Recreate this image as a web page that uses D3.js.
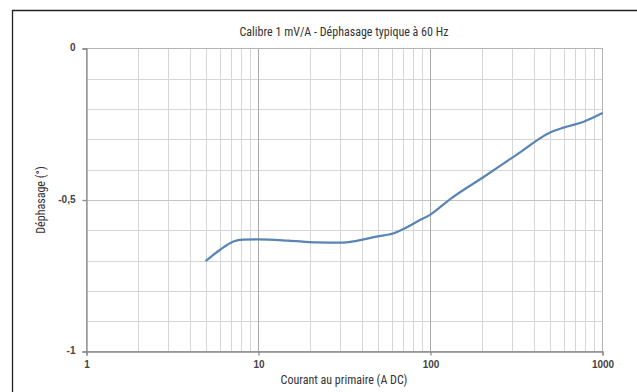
<!DOCTYPE html>
<html><head><meta charset="utf-8">
<script src="https://cdn.jsdelivr.net/npm/d3@7"></script>
<style>
html,body{margin:0;padding:0;background:#fff;}
svg{display:block;}
.cond{font-family:"Liberation Sans Narrow","Roboto Condensed","Liberation Sans",Arial,sans-serif;font-stretch:condensed;}
</style></head>
<body>
<svg id="c" width="637" height="392"></svg>
<script>
const currentA = [5, 6, 7.2, 8.2, 10, 15, 22, 30, 38, 49, 61.5, 73.5, 85, 100, 131, 205, 320, 500, 598, 782, 1000];
const phaseDeg = [-0.700, -0.665, -0.637, -0.631, -0.630, -0.634, -0.640, -0.641, -0.634, -0.621, -0.610, -0.590, -0.570, -0.549, -0.497, -0.424, -0.350, -0.277, -0.261, -0.242, -0.214];
const xTickVals = [1, 10, 100, 1000];
const xTickLabels = ["1", "10", "100", "1000"];
const yTickVals = [0, -0.5, -1];
const yTickLabels = ["0", "-0,5", "-1"];
const titleText = "Calibre 1 mV/A - Déphasage typique à 60 Hz";
const xLabel = "Courant au primaire (A DC)";
const yLabel = "Déphasage (°)";

const svg = d3.select("#c");
const L = 86, R = 602, T = 48.5, B = 351.5;
const x = d3.scaleLog().domain([1, 1000]).range([L, R]);
const y = d3.scaleLinear().domain([-1, 0]).range([B, T]);

// frame
svg.append("line").attr("x1",12.5).attr("x2",12.5).attr("y1",10).attr("y2",392).attr("stroke","#222").attr("stroke-width",1.3);
svg.append("line").attr("x1",12).attr("x2",637).attr("y1",10.5).attr("y2",10.5).attr("stroke","#222").attr("stroke-width",1.3);

// minor vertical grid
const minorX = [];
for (let d = 1; d < 1000; d *= 10) for (let k = 2; k <= 9; k++) minorX.push(d*k);
svg.append("g").selectAll("line").data(minorX).join("line")
  .attr("x1", d => Math.round(x(d))+0.5).attr("x2", d => Math.round(x(d))+0.5)
  .attr("y1", T).attr("y2", B).attr("stroke", "#d6d6d6").attr("stroke-width", 1);
// horizontal grid
const hy = d3.range(1, 10).map(i => -i/10);
svg.append("g").selectAll("line").data(hy).join("line")
  .attr("x1", L).attr("x2", R)
  .attr("y1", d => Math.round(y(d))+0.5).attr("y2", d => Math.round(y(d))+0.5)
  .attr("stroke", d => Math.abs(d+0.5)<1e-9 ? "#c4c4c4" : "#d6d6d6").attr("stroke-width", 1);
// major vertical grid
svg.append("g").selectAll("line").data([10, 100]).join("line")
  .attr("x1", d => Math.round(x(d))+0.5).attr("x2", d => Math.round(x(d))+0.5)
  .attr("y1", T).attr("y2", B).attr("stroke", "#a8a8a8").attr("stroke-width", 1);
// plot border
svg.append("rect").attr("x", L+0.5).attr("y", T).attr("width", R-L).attr("height", B-T)
  .attr("fill","none").attr("stroke","#b4b4b4").attr("stroke-width",1);

// axes
const xAxis = d3.axisBottom(x).tickValues(xTickVals).tickFormat((d,i)=>xTickLabels[i]).tickSize(4).tickPadding(5);
const gx = svg.append("g").attr("transform", `translate(0.5,${B})`).call(xAxis);
const yAxis = d3.axisLeft(y).tickValues(yTickVals).tickFormat((d,i)=>yTickLabels[i]).tickSize(4).tickPadding(7);
const gy = svg.append("g").attr("transform", `translate(${L+0.5},0)`).call(yAxis);
[gx, gy].forEach(g => {
  g.select(".domain").attr("stroke","#8c8c8c").attr("stroke-width",1.3);
  g.selectAll(".tick line").attr("stroke","#8c8c8c").attr("stroke-width",1.3);
  g.selectAll(".tick text").attr("fill","#444").attr("font-size","10px").attr("font-weight","bold")
    .attr("font-family","'Liberation Sans Narrow','Liberation Sans',Arial,sans-serif");
});
gy.selectAll(".tick text").attr("dy","0.2em");

// line
const line = d3.line().x((d,i)=>x(currentA[i])).y(d=>y(d)).curve(d3.curveMonotoneX);
svg.append("path").datum(phaseDeg).attr("d", line).attr("fill","none")
  .attr("stroke","#5a84b6").attr("stroke-width",2.2).attr("stroke-linejoin","round").attr("stroke-linecap","round");

// texts
svg.append("text").attr("class","cond").attr("x", 344).attr("y", 36).attr("text-anchor","middle")
  .attr("font-size","12px").attr("fill","#333").text(titleText);
svg.append("text").attr("class","cond").attr("x", 344).attr("y", 384).attr("text-anchor","middle")
  .attr("font-size","12px").attr("fill","#333").text(xLabel);
svg.append("text").attr("class","cond").attr("transform","translate(45,200) rotate(-90)").attr("text-anchor","middle")
  .attr("font-size","12px").attr("fill","#333").text(yLabel);
</script>
</body></html>
